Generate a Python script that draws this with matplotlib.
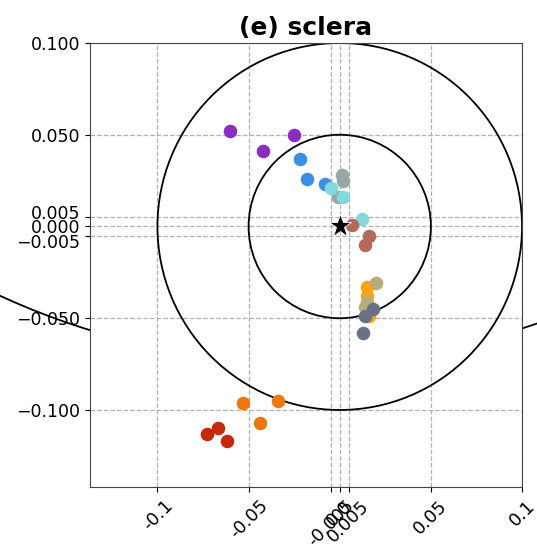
import matplotlib
matplotlib.use("Agg")
import matplotlib.pyplot as plt
import matplotlib.transforms as mtrans
from matplotlib.patches import Circle

# point groups (x, y)
purple_x = [-0.060, -0.042, -0.025]
purple_y = [0.052, 0.041, 0.050]
blue_x = [-0.022, -0.018, -0.008]
blue_y = [0.037, 0.026, 0.023]
cyan_x = [-0.005, 0.002, 0.012]
cyan_y = [0.021, 0.016, 0.004]
gray_x = [0.001, 0.002, -0.001]
gray_y = [0.028, 0.025, 0.016]
brown_x = [0.007, 0.016, 0.014]
brown_y = [0.001, -0.005, -0.010]
gold_x = [0.015, 0.015, 0.016]
gold_y = [-0.033, -0.038, -0.049]
khaki_x = [0.020, 0.015, 0.014]
khaki_y = [-0.031, -0.041, -0.044]
slate_x = [0.018, 0.014, 0.013]
slate_y = [-0.045, -0.049, -0.058]
orange_x = [-0.053, -0.034, -0.044]
orange_y = [-0.096, -0.095, -0.107]
red_x = [-0.073, -0.067, -0.062]
red_y = [-0.113, -0.110, -0.117]

groups = [
    (purple_x, purple_y, "#8b2cc0"),
    (blue_x, blue_y, "#3a8fe4"),
    (gray_x, gray_y, "#98a7a6"),
    (cyan_x, cyan_y, "#82d9dc"),
    (brown_x, brown_y, "#b4695a"),
    (gold_x, gold_y, "#fca30f"),
    (khaki_x, khaki_y, "#b8ad78"),
    (slate_x, slate_y, "#6b7184"),
    (orange_x, orange_y, "#ee7710"),
    (red_x, red_y, "#c42a08"),
]

xticks = [-0.1, -0.05, -0.005, 0.0, 0.005, 0.05, 0.1]
xlabels = ["-0.1", "-0.05", "-0.005", "0.0", "0.005", "0.05", "0.1"]
yticks = [0.1, 0.05, 0.005, 0.0, -0.005, -0.05, -0.1]
radii = [0.05, 0.1]

fig = plt.figure(figsize=(5.37, 5.5), dpi=100)
ax = fig.add_axes([0.1676, 0.1145, 0.8045, 0.8073])

for r in radii:
    ax.add_patch(Circle((0, 0), r, fill=False, color="black", lw=1.3, zorder=2))

for xs, ys, c in groups:
    ax.scatter(xs, ys, s=95, color=c, zorder=3, linewidths=0)

ax.plot([0], [0], marker="*", color="black", markersize=17,
        markeredgecolor="white", markeredgewidth=0.6, zorder=4)

# big arc from the neighbouring panels, only visible outside the axes
fig.add_artist(Circle((-0.020, 0.326), 0.40, transform=ax.transData,
                      fill=False, color="black", lw=1.3, zorder=-1))

ax.set_xlim(-0.137, 0.1)
ax.set_ylim(-0.142, 0.1)
ax.set_xticks(xticks)
ax.set_xticklabels(xlabels, rotation=45, fontsize=13)
ax.set_yticks(yticks)
ax.set_yticklabels(["%.3f" % v if v >= 0 else "\u2212%.3f" % -v for v in yticks],
                   fontsize=12.5)

# spread the crowded labels around zero a little, as in the original
for lab, v in zip(ax.get_yticklabels(), yticks):
    if abs(v) == 0.005:
        dy = 3.5 / 72 if v > 0 else -3.5 / 72
        lab.set_transform(lab.get_transform() +
                          mtrans.ScaledTranslation(0, dy, fig.dpi_scale_trans))

ax.grid(True, linestyle="--", color="#b0b0b0", lw=0.9)
ax.set_axisbelow(True)
for s in ax.spines.values():
    s.set_color("#444444")
ax.set_title("(e) sclera", fontsize=18, fontweight="bold")

fig.savefig("out.png", dpi=100)
